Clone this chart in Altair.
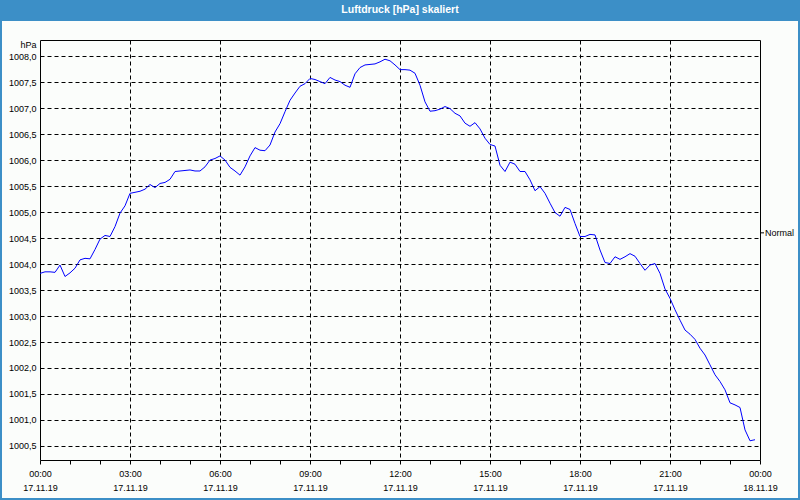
import json
import altair as alt
import pandas as pd

# ---- data (10-minute readings, 17.11.19 00:00 .. 23:50) ----
pressure = [
    1003.82, 1003.85, 1003.85, 1003.84, 1003.98, 1003.76, 1003.83, 1003.92, 1004.08, 1004.11,
    1004.10, 1004.28, 1004.48, 1004.55, 1004.53, 1004.72, 1004.98, 1005.12, 1005.36, 1005.38,
    1005.40, 1005.44, 1005.53, 1005.47, 1005.55, 1005.57, 1005.63, 1005.78, 1005.79, 1005.80,
    1005.81, 1005.79, 1005.79, 1005.87, 1006.00, 1006.03, 1006.08, 1006.00, 1005.86, 1005.79,
    1005.71, 1005.87, 1006.08, 1006.24, 1006.19, 1006.18, 1006.29, 1006.54, 1006.70, 1006.93,
    1007.15, 1007.29, 1007.42, 1007.47, 1007.57, 1007.55, 1007.51, 1007.47, 1007.59, 1007.54,
    1007.51, 1007.44, 1007.40, 1007.66, 1007.78, 1007.83, 1007.84, 1007.85, 1007.89, 1007.94,
    1007.91, 1007.83, 1007.74, 1007.74, 1007.73, 1007.67, 1007.44, 1007.12, 1006.94, 1006.95,
    1006.98, 1007.03, 1006.99, 1006.90, 1006.85, 1006.71, 1006.65, 1006.72, 1006.60, 1006.42,
    1006.30, 1006.27, 1005.90, 1005.78, 1005.96, 1005.92, 1005.78, 1005.78, 1005.62, 1005.41,
    1005.49, 1005.36, 1005.17, 1004.99, 1004.92, 1005.09, 1005.05, 1004.78, 1004.53, 1004.53,
    1004.57, 1004.56, 1004.27, 1004.03, 1004.01, 1004.14, 1004.09, 1004.14, 1004.20, 1004.15,
    1004.01, 1003.88, 1003.98, 1004.01, 1003.82, 1003.52, 1003.34, 1003.12, 1002.92, 1002.73,
    1002.65, 1002.55, 1002.38, 1002.25, 1002.06, 1001.87, 1001.74, 1001.58, 1001.33, 1001.29,
    1001.24, 1000.81, 1000.60, 1000.62,
]
step_minutes = 10
hours = [i * step_minutes / 60 for i in range(len(pressure))]

y_ticks = [1000.5, 1001.0, 1001.5, 1002.0, 1002.5, 1003.0, 1003.5, 1004.0,
           1004.5, 1005.0, 1005.5, 1006.0, 1006.5, 1007.0, 1007.5, 1008.0]
x_ticks = list(range(25))
x_label_times = ["00:00", "03:00", "06:00", "09:00", "12:00", "15:00", "18:00", "21:00", "00:00"]
x_label_dates = ["17.11.19", "17.11.19", "17.11.19", "17.11.19", "17.11.19",
                 "17.11.19", "17.11.19", "17.11.19", "18.11.19"]
normal_level = [1004.6]
normal_label = ["Normal"]
title_text = ["Luftdruck [hPa] skaliert"]
y_unit = "hPa"

FONT = "Liberation Sans"
BLUE = "#3c8fc7"

df = pd.DataFrame({"hour": hours, "hPa": pressure})

x_scale = alt.Scale(domain=[0, 24], nice=False, zero=False)
y_scale = alt.Scale(domain=[1000.23, 1008.31], nice=False, zero=False)

x_label_expr = (
    f"datum.value % 3 == 0 ? [{json.dumps(x_label_times)}[datum.value / 3], "
    f"{json.dumps(x_label_dates)}[datum.value / 3]] : ''"
)

x_axis = alt.Axis(
    values=x_ticks, labelExpr=x_label_expr, title=None, domain=False,
    ticks=True, tickSize=4, tickColor="black", tickWidth=1,
    grid=True, gridColor="black", gridDash=[4, 3], gridWidth=1,
    gridOpacity={"condition": {"test": "datum.value % 3 != 0 || datum.value == 0 || datum.value == 24", "value": 0}, "value": 1},
    labelFont=FONT, labelFontSize=9, labelColor="black", labelPadding=5,
    labelLineHeight=14, labelAngle=0, labelOverlap=False, labelFlush=False,
)
y_axis = alt.Axis(
    values=y_ticks, labelExpr="replace(format(datum.value, '.1f'), '.', ',')",
    title=y_unit, titleAngle=0, titleX=-4, titleY=4, titleAlign="right",
    titleBaseline="middle", titleFont=FONT, titleFontSize=9, titleFontWeight="normal",
    titleColor="black", domain=False, ticks=False,
    grid=True, gridColor="black", gridDash=[4, 3], gridWidth=1,
    labelFont=FONT, labelFontSize=9, labelColor="black", labelPadding=4,
    labelOverlap=False, labelFlush=False,
)

line = alt.Chart(df).mark_line(color="#0000ff", strokeWidth=1, clip=True).encode(
    x=alt.X("hour:Q", scale=x_scale, axis=x_axis),
    y=alt.Y("hPa:Q", scale=y_scale, axis=y_axis),
)

ndf = pd.DataFrame({"level": normal_level, "label": normal_label})
normal_tick = alt.Chart(ndf).mark_rule(color="black", strokeWidth=1).encode(
    y=alt.Y("level:Q", scale=y_scale, axis=y_axis),
    x=alt.value(720), x2=alt.value(724),
)
normal_text = alt.Chart(ndf).mark_text(
    align="left", baseline="middle", font=FONT, fontSize=9, color="black"
).encode(
    y=alt.Y("level:Q", scale=y_scale, axis=y_axis),
    x=alt.value(725), text="label:N",
)

tdf = pd.DataFrame({"t": title_text})
border = alt.Chart(tdf).mark_rect(filled=False, stroke=BLUE, strokeWidth=2).encode(
    x=alt.value(-39), x2=alt.value(759), y=alt.value(-20), y2=alt.value(459),
)
title_bar = alt.Chart(tdf).mark_rect(color=BLUE).encode(
    x=alt.value(-40), x2=alt.value(760), y=alt.value(-40), y2=alt.value(-20),
)
title = alt.Chart(tdf).mark_text(
    align="center", baseline="middle", font=FONT, fontSize=10.5,
    fontWeight="bold", color="white"
).encode(x=alt.value(360), y=alt.value(-30), text="t:N")

chart = alt.layer(line, normal_tick, normal_text, border, title_bar, title).properties(
    width=720, height=420,
    padding={"left": 40, "top": 40, "right": 40, "bottom": 40},
    autosize=alt.AutoSizeParams(type="none"),
    background="#fbfdfb",
).configure_view(stroke="black", strokeWidth=1, fill=None)

chart.save("out.html", embed_options={"renderer": "svg", "actions": False})
